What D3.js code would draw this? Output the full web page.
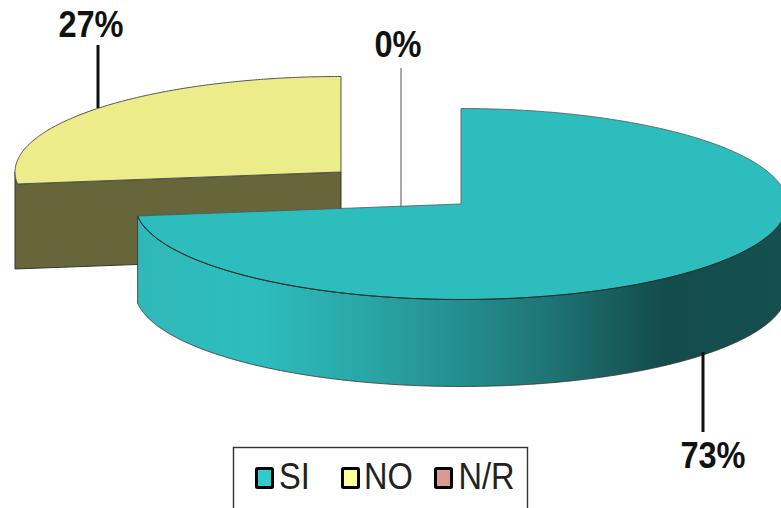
<!DOCTYPE html>
<html>
<head>
<meta charset="utf-8">
<style>
html,body{margin:0;padding:0;background:#fff;overflow:hidden}
text{font-family:"Liberation Sans",Arial,sans-serif}
</style>
<script src="https://cdn.jsdelivr.net/npm/d3@7"></script>
</head>
<body>
<svg id="chart" width="781" height="508"></svg>
<script>
// Survey answers and their shares
const categories = ["SI", "NO", "N/R"];
const values = [73, 27, 0];
const topColors = ["#2dbdbd", "#ecec8a", "#d99a94"];
const swatchColors = ["#2fcccc", "#ffff99", "#d99a94"];
const wallColor = "#66663a";

const svg = d3.select("#chart");

// Each slice is offset from the others along its own explosion direction
const rx = 326, ry = 95.5, depthSi = 87, depthNo = 85;
const x = d3.scaleLinear().domain([-1, 1]).range([-rx, rx]);
const y = d3.scaleLinear().domain([-1, 1]).range([ry, -ry]);
const centers = { SI: [461, 204], NO: [341, 172] };

const slices = d3.pie().sort(null).startAngle(0).endAngle(2 * Math.PI)(values)
  .map((d, i) => ({ ...d, name: categories[i] }));

const px = (c, a) => c[0] + x(Math.sin(a));
const py = (c, a, dz = 0) => c[1] + y(Math.cos(a)) + dz;

function arcPoints(c, a0, a1, dz = 0) {
  const n = Math.max(2, Math.ceil(Math.abs(a1 - a0) / 0.01));
  return d3.range(n + 1).map(i => {
    const a = a0 + (a1 - a0) * i / n;
    return [px(c, a), py(c, a, dz)];
  });
}
const line = d3.line();

const defs = svg.append("defs");
const grad = defs.append("linearGradient").attr("id", "wallShade")
  .attr("gradientUnits", "userSpaceOnUse")
  .attr("x1", 138).attr("x2", 786).attr("y1", 0).attr("y2", 0);
[[0, "#30b8b8"], [0.18, "#2dbdbd"], [0.34, "#2aa8a8"], [0.53, "#23888a"], [0.63, "#1f7575"], [0.81, "#144c4c"], [1, "#154f4f"]]
  .forEach(([o, c]) => grad.append("stop").attr("offset", o).attr("stop-color", c));

// Yellow slice: cut face and the sliver of outer wall, then the top
const no = slices[1], cNo = centers.NO;
const noEdge = [[cNo[0], cNo[1]], [px(cNo, no.startAngle), py(cNo, no.startAngle)]];
const leftTurn = 1.5 * Math.PI;
svg.append("path")
  .attr("d", line([
    ...arcPoints(cNo, leftTurn, no.startAngle),
    noEdge[0],
    [noEdge[0][0], noEdge[0][1] + depthNo],
    [px(cNo, leftTurn), noEdge[1][1] + depthNo]
  ]) + "Z")
  .attr("fill", wallColor).attr("stroke", "#333").attr("stroke-width", 1);
svg.append("path")
  .attr("d", line([noEdge[0], ...arcPoints(cNo, no.startAngle, no.endAngle)]) + "Z")
  .attr("fill", topColors[1]).attr("stroke", "#555").attr("stroke-width", 1);

// Teal slice: outer wall from the right extreme round to its end, then the top
const si = slices[0], cSi = centers.SI;
const outer = arcPoints(cSi, Math.PI / 2, si.endAngle);
const outerLow = arcPoints(cSi, si.endAngle, Math.PI / 2, depthSi);
svg.append("path")
  .attr("d", line([...outer, ...outerLow]) + "Z")
  .attr("fill", "url(#wallShade)").attr("stroke", "#333").attr("stroke-width", 0.8);
svg.append("path")
  .attr("d", line([cSi, ...arcPoints(cSi, si.startAngle, si.endAngle)]) + "Z")
  .attr("fill", topColors[0]).attr("stroke", "#555").attr("stroke-width", 0.8);
// The rim above the wall reads darker than the back edge
svg.append("path")
  .attr("d", line(outer))
  .attr("fill", "none").attr("stroke", "#0d2f2f").attr("stroke-width", 1);

// Value labels with leader lines
const labelSpots = [
  { i: 0, lx: 703, y1: 352, y2: 432, tx: 713, ty: 468, w: 3, col: "#111" },
  { i: 1, lx: 98, y1: 45, y2: 108, tx: 91, ty: 37, w: 3, col: "#111" },
  { i: 2, lx: 401, y1: 68, y2: 207, tx: 398, ty: 57, w: 1, col: "#555" }
];
labelSpots.forEach(s => {
  svg.append("line").attr("x1", s.lx).attr("x2", s.lx).attr("y1", s.y1).attr("y2", s.y2)
    .attr("stroke", s.col).attr("stroke-width", s.w);
  svg.append("text").attr("x", s.tx).attr("y", s.ty)
    .attr("text-anchor", "middle")
    .attr("font-size", 37).attr("font-weight", "bold").attr("fill", "#111")
    .attr("transform", `translate(${s.tx},0) scale(0.88,1) translate(${-s.tx},0)`)
    .text(values[s.i] + "%");
});

// Legend box runs off the bottom of the frame
svg.append("rect").attr("x", 233.5).attr("y", 447.5).attr("width", 294).attr("height", 80)
  .attr("fill", "#fff").attr("stroke", "#333").attr("stroke-width", 1.4);
const swatchX = [256.5, 342.5, 435.5];
const legendTextX = [279, 364, 458.5];
categories.forEach((c, i) => {
  svg.append("rect").attr("x", swatchX[i]).attr("y", 468.5).attr("width", 16).attr("height", 19)
    .attr("fill", swatchColors[i]).attr("stroke", "#000").attr("stroke-width", 3).attr("rx", 1);
  const tx = legendTextX[i];
  svg.append("text").attr("x", tx).attr("y", 489)
    .attr("font-size", 37).attr("fill", "#222")
    .attr("transform", `translate(${tx},0) scale(0.88,1) translate(${-tx},0)`)
    .text(c);
});
</script>
</body>
</html>
